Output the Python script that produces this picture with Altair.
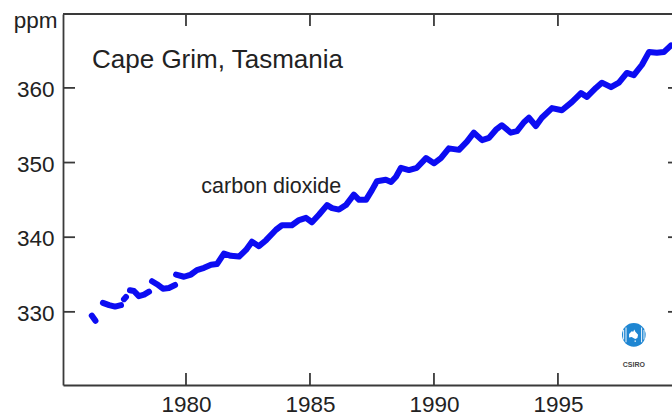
import altair as alt
import pandas as pd

# ---- data ----
years = [
    1976.20, 1976.35,
    1976.65, 1976.90, 1977.14, 1977.38,
    1977.50, 1977.58,
    1977.74, 1977.90, 1978.10, 1978.31, 1978.51,
    1978.63, 1978.83, 1979.07, 1979.31, 1979.56,
    1979.60, 1979.92, 1980.20, 1980.44, 1980.73, 1981.01, 1981.25, 1981.53,
    1981.81, 1982.14, 1982.42, 1982.66, 1982.94, 1983.23, 1983.63, 1983.87,
    1984.27, 1984.56, 1984.84, 1985.08, 1985.36, 1985.69, 1985.89, 1986.17,
    1986.45, 1986.77, 1986.98, 1987.26, 1987.50, 1987.70, 1988.06, 1988.27,
    1988.47, 1988.67, 1988.99, 1989.31, 1989.68, 1990.00, 1990.28, 1990.60,
    1991.01, 1991.33, 1991.61, 1991.94, 1992.22, 1992.50, 1992.74, 1993.10,
    1993.35, 1993.63, 1993.83, 1994.11, 1994.35, 1994.76, 1995.16, 1995.56,
    1995.93, 1996.17, 1996.53, 1996.77, 1997.14, 1997.46, 1997.78, 1998.06,
    1998.39, 1998.67, 1998.99, 1999.27, 1999.56,
]
co2_ppm = [
    329.5, 328.8,
    331.2, 330.9, 330.7, 330.9,
    331.7, 332.0,
    332.9, 332.8, 332.1, 332.3, 332.7,
    334.1, 333.7, 333.1, 333.2, 333.6,
    335.0, 334.7, 335.0, 335.6, 335.9, 336.3, 336.4, 337.8,
    337.5, 337.4, 338.3, 339.4, 338.8, 339.6, 341.0, 341.6,
    341.6, 342.3, 342.6, 342.0, 343.0, 344.3, 343.9, 343.7,
    344.3, 345.7, 345.0, 345.0, 346.3, 347.5, 347.7, 347.4,
    348.1, 349.3, 349.0, 349.3, 350.6, 349.9, 350.6, 351.9,
    351.7, 352.8, 354.0, 353.0, 353.3, 354.4, 355.0, 354.0,
    354.2, 355.4, 356.0, 354.9, 356.0, 357.3, 357.0, 358.1,
    359.3, 358.8, 360.0, 360.7, 360.1, 360.7, 362.0, 361.7,
    363.1, 364.8, 364.7, 364.8, 365.7,
]
segment = (
    [0] * 2 + [1] * 4 + [2] * 2 + [3] * 5 + [4] * 5 + [5] * (len(years) - 18)
)

x_ticks = [1980, 1985, 1990, 1995]
y_ticks = [330, 340, 350, 360]

labels = ["Cape Grim, Tasmania", "carbon dioxide"]
label_years = [1976.21, 1980.62]
label_ppm = [362.64, 345.94]

logo_year = [1998.06]
logo_ppm = [326.92]
logo_text_ppm = [322.9]

# ---- chart ----
W, H = 609, 371
BLUE = "#0c0cf2"
FRAME = "#3a3a3a"
FONT = "Liberation Sans"

df = pd.DataFrame({"year": years, "ppm": co2_ppm, "segment": segment})
xt = pd.DataFrame({"year": x_ticks})
yt = pd.DataFrame({"ppm": y_ticks})
one = pd.DataFrame({"k": [0]})

xscale = alt.Scale(domain=[1975.04, 1999.6], nice=False, zero=False)
yscale = alt.Scale(domain=[320.2, 369.9], nice=False, zero=False)

line = alt.Chart(df).mark_line(
    color=BLUE, strokeWidth=6, strokeCap="round", strokeJoin="round"
).encode(
    x=alt.X("year:Q", scale=xscale, axis=alt.Axis(
        values=x_ticks, format="d", title=None, ticks=False, tickSize=0,
        labelPadding=8, grid=False, domain=True, domainColor=FRAME,
        domainWidth=1.8, labelFontSize=22.5, labelFont=FONT,
        labelColor="#222222", labelFlush=False, labelOverlap=False)),
    y=alt.Y("ppm:Q", scale=yscale, axis=alt.Axis(
        values=y_ticks, title="ppm", titleAngle=0, titleAlign="right",
        titleBaseline="alphabetic", titleX=-6, titleY=13,
        titleFontSize=22.5, titleFontWeight="normal", titleFont=FONT,
        titleColor="#222222", ticks=False, tickSize=0, labelPadding=9,
        labelOffset=1.5, grid=False, domain=True, domainColor=FRAME,
        domainWidth=1.8, labelFontSize=22.5, labelFont=FONT,
        labelColor="#222222", labelFlush=False, labelOverlap=False)),
    detail="segment:N",
)

tick_style = dict(color=FRAME, strokeWidth=1.8)
bottom_ticks = alt.Chart(xt).mark_rule(**tick_style).encode(
    x=alt.X("year:Q", scale=xscale), y=alt.value(H), y2=alt.value(H - 12))
top_ticks = alt.Chart(xt).mark_rule(**tick_style).encode(
    x=alt.X("year:Q", scale=xscale), y=alt.value(0), y2=alt.value(12))
left_ticks = alt.Chart(yt).mark_rule(**tick_style).encode(
    y=alt.Y("ppm:Q", scale=yscale), x=alt.value(0), x2=alt.value(12))
right_ticks = alt.Chart(yt).mark_rule(**tick_style).encode(
    y=alt.Y("ppm:Q", scale=yscale), x=alt.value(W - 4), x2=alt.value(W))
top_line = alt.Chart(one).mark_rule(**tick_style).encode(
    x=alt.value(0), x2=alt.value(W), y=alt.value(0))

title_txt = alt.Chart(pd.DataFrame({
    "label": [labels[0]], "year": [label_years[0]], "ppm": [label_ppm[0]]
})).mark_text(
    align="left", baseline="alphabetic", fontSize=26, font=FONT,
    color="#222222"
).encode(x=alt.X("year:Q", scale=xscale), y=alt.Y("ppm:Q", scale=yscale),
         text="label:N")

series_txt = alt.Chart(pd.DataFrame({
    "label": [labels[1]], "year": [label_years[1]], "ppm": [label_ppm[1]]
})).mark_text(
    align="left", baseline="alphabetic", fontSize=21.5, font=FONT,
    color="#222222"
).encode(x=alt.X("year:Q", scale=xscale), y=alt.Y("ppm:Q", scale=yscale),
         text="label:N")

logo_df = pd.DataFrame({"year": logo_year, "ppm": logo_ppm})
logo_circle = alt.Chart(logo_df).mark_point(
    shape="circle", filled=True, size=560, color="#1f86d2", opacity=1
).encode(x=alt.X("year:Q", scale=xscale), y=alt.Y("ppm:Q", scale=yscale))

stripes_path = (
    "M-0.9,-0.4h0.08v0.8h-0.08Z "
    "M-0.7,-0.62h0.08v1.24h-0.08Z "
    "M0.62,-0.62h0.08v1.24h-0.08Z "
    "M0.82,-0.4h0.08v0.8h-0.08Z "
    "M-0.4,-0.08L-0.18,-0.3L-0.05,-0.26L0.04,-0.46L0.13,-0.26L0.36,0"
    "L0.3,0.26L0.12,0.36L-0.04,0.26L-0.18,0.18L-0.4,0.22Z "
    "M0.06,0.48h0.12v0.1h-0.12Z"
)
logo_inner = alt.Chart(logo_df).mark_point(
    shape=stripes_path, filled=True, size=560, color="white", opacity=1,
    strokeWidth=0
).encode(x=alt.X("year:Q", scale=xscale), y=alt.Y("ppm:Q", scale=yscale))

logo_text = alt.Chart(pd.DataFrame({
    "label": ["CSIRO"], "year": logo_year, "ppm": logo_text_ppm
})).mark_text(
    fontSize=7, fontWeight="bold", font=FONT, color="#444444",
    baseline="middle", align="center"
).encode(x=alt.X("year:Q", scale=xscale), y=alt.Y("ppm:Q", scale=yscale),
         text="label:N")

chart = alt.layer(
    top_line, bottom_ticks, top_ticks, left_ticks, right_ticks,
    line, title_txt, series_txt, logo_circle, logo_inner, logo_text
).properties(
    width=W, height=H, autosize="none",
    padding={"left": 63, "top": 14, "right": 0, "bottom": 31},
    background="white",
).configure_view(stroke=None)

chart.save("out.html", embed_options={"renderer": "svg", "actions": False})
